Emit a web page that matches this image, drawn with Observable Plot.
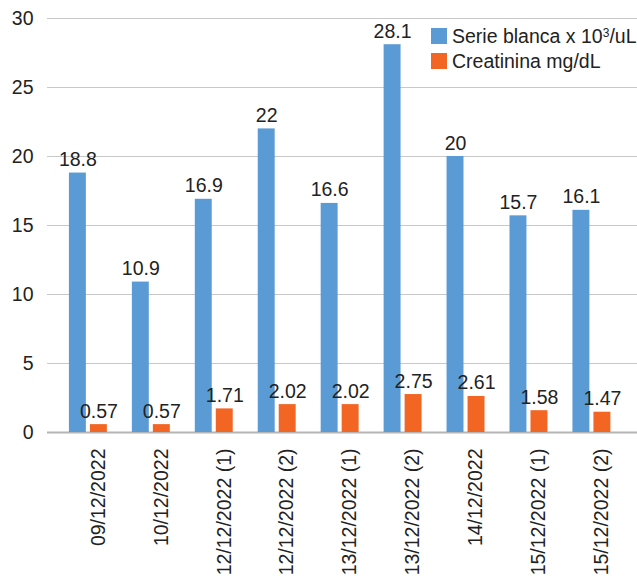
<!DOCTYPE html>
<html><head><meta charset="utf-8">
<script src="https://cdn.jsdelivr.net/npm/d3@7"></script>
<script src="https://cdn.jsdelivr.net/npm/@observablehq/plot@0.6"></script>
<style>
body{margin:0;background:#fff;font-family:"Liberation Sans",Arial,sans-serif;}
#wrap{position:relative;width:637px;height:578px;overflow:hidden}
.leg{position:absolute;left:431px;font-size:19.5px;line-height:16px;color:#222;display:flex;align-items:center;white-space:nowrap}
.sw{width:16px;height:16px;margin-right:5px;flex:none}
sup{font-size:12px;vertical-align:6px;line-height:0}
</style></head><body><div id="wrap"></div>
<script>
const categories = ["09/12/2022","10/12/2022","12/12/2022 (1)","12/12/2022 (2)","13/12/2022 (1)","13/12/2022 (2)","14/12/2022","15/12/2022 (1)","15/12/2022 (2)"];
const serieBlanca = [18.8,10.9,16.9,22,16.6,28.1,20,15.7,16.1];
const creatinina = [0.57,0.57,1.71,2.02,2.02,2.75,2.61,1.58,1.47];
const seriesNames = ["Serie blanca x 10³/uL","Creatinina mg/dL"];
const seriesColors = ["#5B9BD5","#F26522"];
const yTicks = [0,5,10,15,20,25,30];

const blue = categories.map((c,i)=>({cat:c, v:serieBlanca[i]}));
const orange = categories.map((c,i)=>({cat:c, v:creatinina[i]}));
const FS = 19.5;

const chart = Plot.plot({
  width: 637, height: 578,
  marginTop: 18, marginBottom: 146, marginLeft: 47, marginRight: 0,
  style: {fontFamily: '"Liberation Sans", Arial, sans-serif', fontSize: FS + "px", color: "#222", background: "#fff"},
  x: {domain: categories, paddingInner: 0, paddingOuter: 0.187, align: 0.4, round: false, label: null},
  y: {domain: [0, 30], label: null},
  marks: [
    Plot.gridY(yTicks, {stroke: "#c8c8c8", strokeOpacity: 1, strokeWidth: 1.2}),
    Plot.ruleY([0], {stroke: "#b4b4b4", strokeWidth: 1.8}),
    Plot.barY(blue, {x: "cat", y: "v", fill: seriesColors[0], insetLeft: 12.5, insetRight: 33.5}),
    Plot.barY(orange, {x: "cat", y: "v", fill: seriesColors[1], insetLeft: 33.5, insetRight: 12.5}),
    Plot.text(blue, {x: "cat", y: "v", text: d => String(d.v), dx: -10.5, dy: -7, lineAnchor: "bottom", fontSize: FS, fill: "#222"}),
    Plot.text(orange, {x: "cat", y: "v", text: d => String(d.v), dx: 10.5, dy: -7, lineAnchor: "bottom", fontSize: FS, fill: "#222"}),
    Plot.axisY(yTicks, {tickSize: 0, tickPadding: 14, fontSize: FS, label: null}),
    Plot.axisX({tickRotate: -90, tickSize: 0, tickPadding: 16, dx: 10, fontSize: FS, label: null})
  ]
});
const wrap = document.getElementById("wrap");
wrap.appendChild(chart);

seriesNames.forEach((name, i) => {
  const row = document.createElement("div");
  row.className = "leg";
  row.style.top = (28 + i * 25) + "px";
  const sw = document.createElement("div");
  sw.className = "sw";
  sw.style.background = seriesColors[i];
  const tx = document.createElement("span");
  if (name.includes("³")) {
    const [a, b] = name.split("³");
    tx.append(a);
    const s = document.createElement("sup"); s.textContent = "3"; tx.append(s);
    tx.append(b);
  } else tx.textContent = name;
  row.append(sw, tx);
  wrap.appendChild(row);
});
</script></body></html>
